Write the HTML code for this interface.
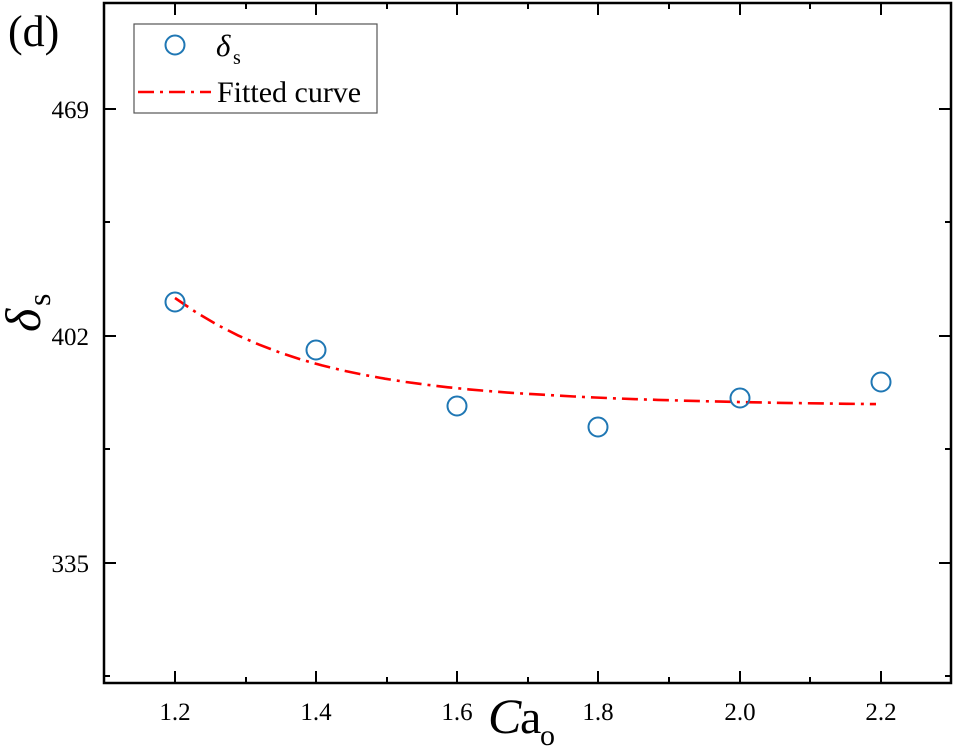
<!DOCTYPE html>
<html><head><meta charset="utf-8"><style>
html,body{margin:0;padding:0;background:#fff}
svg{display:block}
text{font-family:"Liberation Serif",serif;fill:#000}
</style></head><body>
<svg width="955" height="746" viewBox="0 0 955 746" xmlns="http://www.w3.org/2000/svg">
<rect x="104" y="3" width="847" height="680" fill="none" stroke="#000" stroke-width="2.5"/>
<g stroke="#000" stroke-width="2">
<line x1="175" y1="683" x2="175" y2="671"/><line x1="316" y1="683" x2="316" y2="671"/><line x1="457" y1="683" x2="457" y2="671"/><line x1="598" y1="683" x2="598" y2="671"/><line x1="740" y1="683" x2="740" y2="671"/><line x1="881" y1="683" x2="881" y2="671"/>
<line x1="246" y1="683" x2="246" y2="677"/><line x1="387" y1="683" x2="387" y2="677"/><line x1="528" y1="683" x2="528" y2="677"/><line x1="669" y1="683" x2="669" y2="677"/><line x1="810" y1="683" x2="810" y2="677"/><line x1="104" y1="683" x2="104" y2="677"/>
<line x1="175" y1="3" x2="175" y2="15"/><line x1="316" y1="3" x2="316" y2="15"/><line x1="457" y1="3" x2="457" y2="15"/><line x1="598" y1="3" x2="598" y2="15"/><line x1="740" y1="3" x2="740" y2="15"/><line x1="881" y1="3" x2="881" y2="15"/>
<line x1="246" y1="3" x2="246" y2="9"/><line x1="387" y1="3" x2="387" y2="9"/><line x1="528" y1="3" x2="528" y2="9"/><line x1="669" y1="3" x2="669" y2="9"/><line x1="810" y1="3" x2="810" y2="9"/>
<line x1="104" y1="109" x2="116" y2="109"/><line x1="104" y1="336" x2="116" y2="336"/><line x1="104" y1="563" x2="116" y2="563"/>
<line x1="104" y1="222" x2="110" y2="222"/><line x1="104" y1="449" x2="110" y2="449"/><line x1="104" y1="676" x2="110" y2="676"/>
<line x1="951" y1="109" x2="939" y2="109"/><line x1="951" y1="336" x2="939" y2="336"/><line x1="951" y1="563" x2="939" y2="563"/>
<line x1="951" y1="222" x2="945" y2="222"/><line x1="951" y1="449" x2="945" y2="449"/><line x1="951" y1="676" x2="945" y2="676"/>
</g>
<g font-size="25" text-anchor="middle">
<text x="175" y="720">1.2</text><text x="316" y="720">1.4</text><text x="457" y="720">1.6</text><text x="598" y="720">1.8</text><text x="740" y="720">2.0</text><text x="881" y="720">2.2</text>
</g>
<g font-size="25" text-anchor="end">
<text x="89" y="118">469</text><text x="89" y="345">402</text><text x="89" y="572">335</text>
</g>
<text x="488" y="733" font-size="50" font-style="italic">C</text><text x="520" y="733" font-size="48">a</text><text x="540" y="745" font-size="30">o</text>
<g transform="translate(40,332) rotate(-90)"><text x="0" y="0" font-size="50" font-style="italic">δ</text><text x="26" y="10" font-size="32">s</text></g>
<text x="8" y="46" font-size="44">(d)</text>
<path d="M175,298 L196,312.3 L217,324.7 L238,335.4 L259,344.6 L280,352.6 L301,359.5 L322,365.4 L343,370.5 L364,374.9 L385,378.7 L406,382.0 L427,384.8 L448,387.3 L469,389.4 L490,391.2 L511,392.8 L532,394.1 L553,395.3 L574,396.5 L595,397.5 L616,398.4 L637,399.2 L658,399.9 L679,400.5 L700,401.1 L721,401.6 L742,402.1 L763,402.5 L784,402.9 L805,403.2 L826,403.5 L847,403.8 L868,404.0 L876,404.1" fill="none" stroke="#ff0000" stroke-width="2.6" stroke-dasharray="16,6,3,6"/>
<g fill="none" stroke="#1f77b4" stroke-width="2">
<circle cx="175" cy="302" r="9.5"/><circle cx="316" cy="350" r="9.5"/><circle cx="457" cy="406" r="9.5"/><circle cx="598" cy="427" r="9.5"/><circle cx="740" cy="398" r="9.5"/><circle cx="881" cy="382" r="9.5"/>
</g>
<rect x="134" y="24" width="243" height="89" fill="#fff" stroke="#555" stroke-width="1.2"/>
<circle cx="175" cy="45" r="9.5" fill="none" stroke="#1f77b4" stroke-width="2"/>
<text x="216" y="56" font-size="31" font-style="italic">δ</text><text x="233" y="64" font-size="20">s</text>
<line x1="138" y1="92" x2="211" y2="92" stroke="#ff0000" stroke-width="2.6" stroke-dasharray="16,6,3,6"/>
<text x="217" y="102" font-size="30">Fitted curve</text>
</svg>
</body></html>
